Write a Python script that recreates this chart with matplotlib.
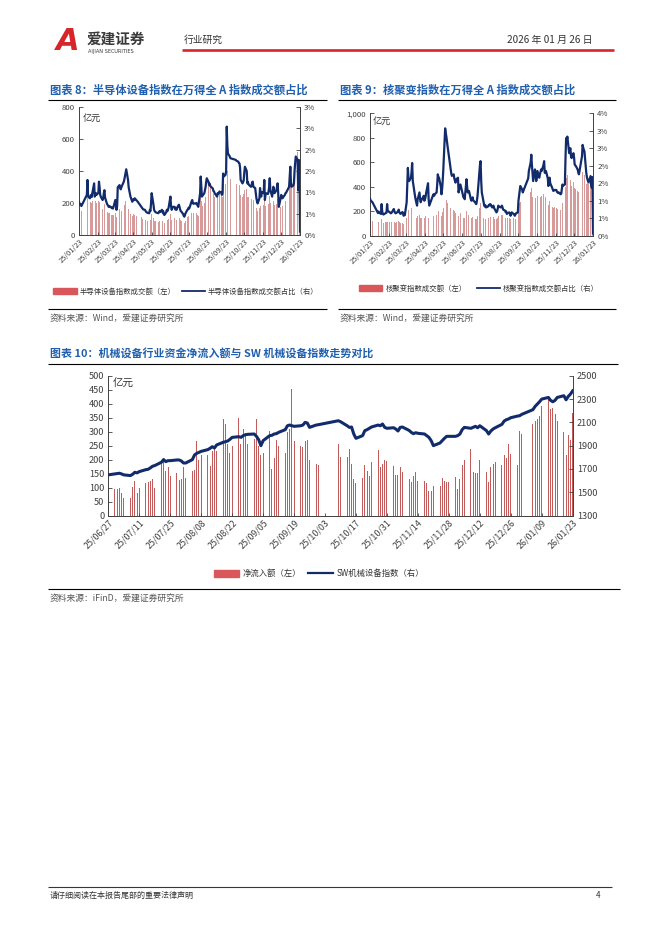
import matplotlib
matplotlib.use('Agg')
import matplotlib.pyplot as plt
from matplotlib.patches import Patch
from matplotlib.lines import Line2D
import pandas as pd

plt.rcParams['font.family'] = ['Noto Sans CJK SC', 'DejaVu Sans']

# ---------------- data ----------------
holidays = ['2025-01-28', '2025-01-29', '2025-01-30', '2025-01-31', '2025-02-03', '2025-02-04',
            '2025-04-04', '2025-05-01', '2025-05-02', '2025-05-05', '2025-06-02',
            '2025-10-01', '2025-10-02', '2025-10-03', '2025-10-06', '2025-10-07', '2025-10-08',
            '2026-01-01', '2026-01-02']

# Chart 8: semiconductor equipment index turnover (亿元) and share of Wind All-A turnover (%)
semi_amount = [
    175, 160,
    150,
    190, 230, 200,
    195, 205, 210, 200, 215,
    240, 205, 210, 215, 200,
    210, 225, 205, 180, 170,
    165, 170, 185, 195, 175,
    150, 145, 140, 135, 140,
    130, 125, 128, 120, 125,
    140, 130, 115, 125, 170,
    165, 150, 145, 150,
    200, 185, 190, 210, 230,
    180, 160, 150, 140, 130,
    120, 125, 130, 125, 128,
    120, 118, 115,
    110, 105, 100, 98,
    95, 92, 90, 88, 85,
    85, 95, 92, 110, 130,
    105, 90, 88, 85, 82,
    80, 85, 90, 88,
    95, 85, 90, 80, 78,
    85, 95, 92, 98, 100,
    130, 105, 95, 100, 105,
    105, 98, 100, 95, 102,
    110, 105, 98, 92, 90,
    85, 80, 75, 82, 88,
    110, 115, 120, 118, 125,
    140, 150, 138, 135, 132,
    130, 135, 128, 125, 120,
    180, 250, 215, 175, 180,
    200, 215, 240, 270, 300,
    330, 396, 340, 300, 290,
    270, 255, 250, 240, 235,
    225, 240, 235, 245, 255,
    245, 235, 240, 330, 320,
    320, 340, 420, 400, 380,
    360, 350,
    330, 320,
    330, 320, 310, 290, 250,
    240, 245, 255, 280, 300,
    290, 240, 245, 235, 230,
    220, 225, 240, 245, 220,
    215, 190, 170, 160, 150,
    170, 210, 180, 175, 195,
    185, 240, 160, 180, 185,
    185, 195, 210, 245, 200,
    175, 195, 215, 200, 185,
    195, 210, 225, 185, 130,
    175, 190, 185, 180, 185,
    200, 210, 215,
    260, 320, 380, 320, 300,
    330, 360, 450, 500, 550,
    520, 380, 500, 460, 330,
]
semi_ratio = [
    0.78, 0.73,
    0.68,
    0.94, 1.29, 0.90,
    0.86, 0.92, 0.94, 0.89, 0.98,
    1.21, 0.90, 0.96, 0.98, 0.94,
    0.99, 1.25, 1.12, 0.94, 0.90,
    0.82, 0.86, 0.98, 1.05, 0.88,
    0.74, 0.71, 0.69, 0.66, 0.68,
    0.65, 0.63, 0.64, 0.62, 0.66,
    0.82, 0.71, 0.59, 0.68, 1.12,
    1.17, 1.10, 1.07, 1.12,
    1.25, 1.31, 1.39, 1.48, 1.54,
    1.29, 1.12, 1.05, 0.98, 0.90,
    0.78, 0.81, 0.84, 0.82, 0.86,
    0.81, 0.79, 0.78,
    0.66, 0.64, 0.62, 0.60,
    0.59, 0.56, 0.54, 0.53, 0.52,
    0.51, 0.59, 0.56, 0.75, 0.98,
    0.71, 0.59, 0.56, 0.54, 0.53,
    0.51, 0.53, 0.56, 0.54,
    0.59, 0.53, 0.56, 0.49, 0.47,
    0.53, 0.59, 0.56, 0.60, 0.64,
    0.90, 0.68, 0.59, 0.62, 0.66,
    0.66, 0.60, 0.62, 0.59, 0.64,
    0.71, 0.66, 0.60, 0.56, 0.55,
    0.49, 0.45, 0.43, 0.47, 0.51,
    0.59, 0.60, 0.64, 0.62, 0.66,
    0.79, 0.82, 0.75, 0.73, 0.74,
    0.74, 0.75, 0.71, 0.69, 0.66,
    0.98, 1.37, 1.12, 0.90, 0.92,
    0.98, 1.05, 1.12, 1.24, 1.33,
    1.24, 1.17, 1.20, 1.14, 1.13,
    1.09, 1.03, 1.02, 0.98, 0.96,
    0.90, 0.98, 0.96, 0.98, 1.02,
    0.99, 0.94, 0.98, 1.44, 1.37,
    1.41, 1.50, 2.54, 2.10, 1.91,
    1.84, 1.80,
    1.76, 1.74,
    1.72, 1.69, 1.68, 1.58, 1.29,
    1.21, 1.24, 1.28, 1.46, 1.60,
    1.50, 1.21, 1.24, 1.19, 1.17,
    1.13, 1.16, 1.24, 1.25, 1.13,
    1.10, 0.98, 0.86, 0.79, 0.74,
    0.86, 1.10, 0.94, 0.90, 1.01,
    0.98, 1.29, 0.82, 0.94, 0.98,
    0.96, 1.01, 1.12, 1.33, 1.05,
    0.90, 1.01, 1.13, 1.05, 0.98,
    1.05, 1.12, 1.21, 0.98, 0.66,
    0.86, 0.94, 0.90, 0.86, 0.88,
    0.94, 0.98, 0.99,
    1.13, 1.35, 1.60, 1.24, 1.13,
    1.16, 1.21, 1.50, 1.69, 1.84,
    1.76, 1.05, 1.76, 1.65, 0.08,
]

# Chart 9: controllable nuclear fusion index turnover (亿元) and share (%)
fusion_amount = [
    150, 135,
    120,
    105, 115, 110,
    110, 140, 120, 112, 108,
    115, 118, 112, 140, 118,
    115, 110, 108, 112, 115,
    125, 118, 110, 108, 112,
    115, 120, 112, 108, 105,
    110, 108, 98, 100, 98,
    150, 200, 245, 215, 205,
    210, 225, 240, 190,
    170, 160, 150, 140, 160,
    175, 155, 145, 150, 155,
    160, 150, 155, 165, 175,
    200, 150, 130,
    160, 165, 160, 165,
    170, 190, 215, 205, 200,
    180, 160, 170, 195, 230,
    320, 310, 295, 280, 270,
    240, 225, 215, 205,
    210, 200, 195, 190, 195,
    200, 160, 170, 175, 185,
    165, 155, 150, 155, 148,
    200, 180, 165, 168, 170,
    150, 145, 150, 155, 148,
    140, 138, 135, 148, 160,
    230, 250, 265, 210, 175,
    150, 140, 138, 142, 135,
    140, 145, 150, 148, 152,
    145, 150, 155, 148, 142,
    135, 140, 150, 165, 160,
    165, 170, 175, 168, 160,
    155, 150, 152, 140, 145,
    150, 145, 135, 145, 152,
    145, 140, 135, 142, 150,
    160, 210, 240, 265, 280,
    270, 255,
    300, 330,
    360, 390, 350, 320, 290,
    330, 310, 285, 300, 330,
    300, 310, 320, 330, 325,
    345, 360, 310, 315, 320,
    290, 255, 270, 285, 265,
    245, 235, 230, 232, 235,
    230, 225, 220, 218, 222,
    215, 220, 240, 265, 260,
    270, 400, 480, 470, 500,
    430, 445, 460, 420, 410,
    440, 420, 390, 385, 380,
    370, 360, 355,
    450, 520, 880, 500, 495,
    420, 470, 460, 455, 440,
    500, 450, 430, 480, 400,
]
fusion_ratio = [
    1.22, 1.16,
    1.10,
    0.75, 0.80, 0.76,
    0.72, 1.04, 0.80, 0.72, 0.70,
    0.74, 0.75, 0.76, 1.04, 0.82,
    0.78, 0.76, 0.74, 0.75, 0.78,
    0.88, 0.80, 0.76, 0.74, 0.75,
    0.80, 0.86, 0.78, 0.74, 0.72,
    0.78, 0.76, 0.66, 0.70, 0.68,
    1.10, 1.68, 2.22, 1.88, 1.79,
    1.90, 2.08, 2.38, 1.80,
    1.26, 1.16, 1.08, 0.99, 1.20,
    1.42, 1.20, 1.10, 1.16, 1.20,
    1.31, 1.15, 1.20, 1.28, 1.42,
    1.72, 1.20, 0.99,
    1.32, 1.36, 1.31, 1.36,
    1.42, 1.68, 2.01, 1.92, 1.90,
    1.60, 1.36, 1.52, 1.80, 2.17,
    3.51, 3.36, 3.24, 3.08, 2.92,
    2.33, 2.16, 2.04, 1.96,
    2.01, 1.88, 1.80, 1.74, 1.84,
    1.90, 1.42, 1.52, 1.60, 1.68,
    1.42, 1.32, 1.26, 1.28, 1.20,
    1.85, 1.60, 1.42, 1.44, 1.47,
    1.20, 1.15, 1.20, 1.26, 1.16,
    1.10, 1.06, 1.04, 1.16, 1.31,
    2.06, 2.32, 2.44, 1.80, 1.42,
    1.10, 0.99, 0.96, 1.00, 0.93,
    0.96, 0.99, 1.02, 1.00, 1.04,
    0.93, 0.96, 0.99, 0.92, 0.88,
    0.77, 0.80, 0.88, 0.99, 0.96,
    0.93, 0.96, 0.99, 0.92, 0.86,
    0.83, 0.78, 0.80, 0.72, 0.74,
    0.77, 0.72, 0.66, 0.72, 0.77,
    0.72, 0.70, 0.66, 0.70, 0.74,
    0.77, 1.15, 1.32, 1.52, 1.63,
    1.52, 1.42,
    1.88, 2.12,
    2.40, 2.65, 2.32, 2.06, 1.79,
    2.17, 2.00, 1.79, 1.88, 2.12,
    1.90, 2.00, 2.08, 2.17, 2.12,
    2.32, 2.44, 2.06, 2.08, 2.12,
    1.88, 1.63, 1.76, 1.90, 1.72,
    1.58, 1.52, 1.47, 1.48, 1.50,
    1.50, 1.44, 1.42, 1.40, 1.42,
    1.36, 1.38, 1.52, 1.68, 1.64,
    1.68, 2.54, 3.19, 3.12, 3.24,
    2.70, 2.80, 2.86, 2.60, 2.54,
    2.70, 2.56, 2.33, 2.30, 2.28,
    2.16, 2.06, 2.01,
    2.60, 2.97, 2.88, 2.81, 2.76,
    2.06, 1.92, 1.84, 1.79, 1.76,
    1.95, 1.68, 1.58, 1.92, 0.08,
]

# Chart 10: machinery net inflow (亿元) and SW machinery index
net_inflow = [
    69,
    95, 95, 99, 80, 64,
    62, 101, 125, 80, 100,
    118, 120, 124, 130, 100,
    190, 205, 160, 172, 143,
    152, 128, 130, 173, 133,
    158, 162, 268, 200, 215,
    215, 178, 232, 240, 232,
    345, 327, 256, 222, 250,
    350, 255, 308, 290, 255,
    275, 347, 250, 216, 222,
    303, 165, 205, 270, 248,
    225, 300, 310, 452, 268,
    248, 245, 265, 272, 200,
    186, 180,
    256, 209,
    211, 238, 185, 130, 116,
    136, 181, 158, 140, 193,
    235, 174, 186, 200, 194,
    176, 145, 146, 172, 155,
    131, 119, 143, 155, 125,
    122, 115, 86, 86, 105,
    107, 133, 125, 119, 119,
    137, 95, 131, 179, 200,
    238, 157, 152, 152, 200,
    155, 119, 173, 184, 190,
    181, 217, 205, 256, 220,
    181, 303, 292,
    327, 339, 345, 357, 393,
    425, 380, 385, 365, 340,
    300, 217, 289, 272, 368,
]
sw_machinery = [
    1649,
    1657, 1660, 1663, 1657, 1649,
    1643, 1654, 1671, 1666, 1677,
    1694, 1697, 1709, 1723, 1729,
    1757, 1780, 1763, 1771, 1771,
    1777, 1777, 1769, 1751, 1751,
    1780, 1820, 1834, 1843, 1851,
    1866, 1877, 1891, 1880, 1906,
    1929, 1934, 1940, 1954, 1971,
    1977, 1971, 1986, 1994, 1997,
    2000, 1980, 1951, 1900, 1943,
    1986, 1989, 2000, 2003, 2014,
    2037, 2071, 2077, 2071, 2066,
    2071, 2077, 2100, 2094, 2057,
    2077, 2080,
    2114, 2106,
    2071, 2057, 2060, 2000, 1963,
    1986, 2029, 2037, 2049, 2060,
    2077, 2071, 2086, 2057, 2049,
    2054, 2043, 2026, 2057, 2060,
    2031, 2014, 2003, 2011, 2006,
    2000, 1986, 1971, 1943, 1900,
    1923, 1943, 1963, 1980, 1980,
    1980, 1986, 2000, 2037, 2057,
    2049, 2057, 2066, 2054, 2071,
    2029, 2000, 2026, 2043, 2054,
    2083, 2111, 2123, 2129, 2140,
    2154, 2157, 2169,
    2209, 2237, 2257, 2277, 2300,
    2314, 2289, 2277, 2289, 2314,
    2329, 2294, 2323, 2343, 2371,
]

ticks_right8 = ['0%', '1%', '1%', '2%', '2%', '3%', '3%']
ticks_right9 = ['0%', '1%', '1%', '2%', '2%', '3%', '3%', '4%']

# ---------------- helpers ----------------
hol = pd.to_datetime(holidays)


def trading_days(start, end):
    d = pd.bdate_range(start, end)
    return d[~d.isin(hol)]


dates_y = trading_days('2025-01-23', '2026-01-23')
dates_10 = trading_days('2025-06-27', '2026-01-23')

W, H = 662, 936
fig = plt.figure(figsize=(W / 100, H / 100), dpi=100)


def fx(x):
    return x / W


def fy(y):
    return 1 - y / H


def hline(x0, x1, y, color='black', lw=0.8):
    fig.add_artist(Line2D([fx(x0), fx(x1)], [fy(y), fy(y)], color=color, lw=lw,
                          solid_capstyle='butt'))


NAVY = '#122b6b'
BAR_RED = '#d9575b'
BAR_FILL = '#d69a9a'
TITLE_BLUE = '#1f5fae'
TXT = '#404040'
SPINE = '#404040'

# ---------------- header ----------------
fig.text(fx(68), fy(41), 'A', fontsize=22, fontweight='bold', color='#d7262b',
         ha='center', va='center', family='DejaVu Sans', style='italic')
fig.text(fx(87), fy(39), '爱建证券', fontsize=10.5, fontweight='bold', color='#3a3a3a',
         ha='left', va='center')
fig.text(fx(88), fy(51), 'AIJIAN SECURITIES', fontsize=3.6, color='#3a3a3a',
         ha='left', va='center', family='DejaVu Sans')
fig.text(fx(184), fy(40), '行业研究', fontsize=7, color='#333333', ha='left', va='center')
fig.text(fx(593), fy(40), '2026 年 01 月 26 日', fontsize=7.2, color='#333333',
         ha='right', va='center')
hline(182, 614, 49.5, color='#d7262b', lw=1.9)

# ---------------- footer ----------------
hline(48, 612, 887, color='#1f3864', lw=0.8)
fig.text(fx(50), fy(895.5), '请仔细阅读在本报告尾部的重要法律声明', fontsize=5.8,
         color='#333333', ha='left', va='center')
fig.text(fx(598), fy(895.5), '4', fontsize=5.8, color='#333333', ha='center', va='center')


def style_axes(ax, axr, fs):
    for s in ['top']:
        ax.spines[s].set_visible(False)
        axr.spines[s].set_visible(False)
    for s in ['left', 'bottom', 'right']:
        ax.spines[s].set_color(SPINE)
        ax.spines[s].set_linewidth(0.6)
        axr.spines[s].set_color(SPINE)
        axr.spines[s].set_linewidth(0.6)
    ax.tick_params(axis='y', direction='in', length=3, width=0.6, colors=SPINE,
                   labelsize=fs, labelcolor=TXT, pad=3)
    axr.tick_params(axis='y', direction='in', length=3, width=0.6, colors=SPINE,
                    labelsize=fs, labelcolor=TXT, pad=3)
    ax.tick_params(axis='x', direction='in', length=2.5, width=0.6, colors=SPINE,
                   labelcolor=TXT, pad=2)


def set_date_ticks(ax, ticks, fs):
    ax.set_xticks(ticks)
    ax.set_xticklabels([t.strftime('%y/%m/%d') for t in ticks], rotation=45,
                       ha='right', rotation_mode='anchor', fontsize=fs, color=TXT)


# ---------------- chart 8 ----------------
fig.text(fx(50), fy(90), '图表 8：半导体设备指数在万得全 A 指数成交额占比', fontsize=8.1,
         fontweight='bold', color=TITLE_BLUE, ha='left', va='center')
hline(48, 327, 99.5)

ax8 = fig.add_axes([fx(79), fy(235), (300 - 79) / W, (235 - 107) / H])
ax8.bar(dates_y, semi_amount, width=0.75, color=BAR_FILL, linewidth=0, zorder=1)
ax8.set_ylim(0, 800)
ax8.set_yticks([0, 200, 400, 600, 800])
ax8.set_yticklabels(['0', '200', '400', '600', '800'])
ax8r = ax8.twinx()
ax8r.plot(dates_y, semi_ratio, color=NAVY, lw=1.6, zorder=3)
ax8r.set_ylim(0, 3)
ax8r.set_yticks([0, 0.5, 1, 1.5, 2, 2.5, 3])
ax8r.set_yticklabels(ticks_right8)
x0, x1 = pd.Timestamp('2025-01-23'), pd.Timestamp('2026-01-23')
ax8.set_xlim(x0, x1)
ax8r.set_xlim(x0, x1)
style_axes(ax8, ax8r, 5.6)
set_date_ticks(ax8, pd.date_range(x0, x1, freq=pd.DateOffset(months=1)), 5.3)
fig.text(fx(83), fy(118), '亿元', fontsize=6.6, color='#333333', ha='left', va='center')

fig.legend([Patch(color=BAR_RED), Line2D([], [], color=NAVY, lw=1.3)],
           ['半导体设备指数成交额（左）', '半导体设备指数成交额占比（右）'],
           loc='center', bbox_to_anchor=(fx(186), fy(291.5)), ncol=2, frameon=False,
           fontsize=5.3, handlelength=3.2, handleheight=0.9, columnspacing=0.8,
           handletextpad=0.4, labelcolor='#333333')
hline(48, 327, 308.5)
fig.text(fx(50), fy(318.5), '资料来源：Wind，爱建证券研究所', fontsize=6.3, color='#555555',
         ha='left', va='center')

# ---------------- chart 9 ----------------
fig.text(fx(340), fy(90), '图表 9：核聚变指数在万得全 A 指数成交额占比', fontsize=8.1,
         fontweight='bold', color=TITLE_BLUE, ha='left', va='center')
hline(338, 616, 99.5)

ax9 = fig.add_axes([fx(370), fy(236), (593 - 370) / W, (236 - 113.3) / H])
ax9.bar(dates_y, fusion_amount, width=0.75, color=BAR_FILL, linewidth=0, zorder=1)
ax9.set_ylim(0, 1000)
ax9.set_yticks([0, 200, 400, 600, 800, 1000])
ax9.set_yticklabels(['0', '200', '400', '600', '800', '1,000'])
ax9r = ax9.twinx()
ax9r.plot(dates_y, fusion_ratio, color=NAVY, lw=1.6, zorder=3)
ax9r.set_ylim(0, 4)
ax9r.set_yticks([4 * i / 7 for i in range(8)])
ax9r.set_yticklabels(ticks_right9)
ax9.set_xlim(x0, x1)
ax9r.set_xlim(x0, x1)
style_axes(ax9, ax9r, 5.6)
set_date_ticks(ax9, pd.date_range(x0, x1, freq=pd.DateOffset(months=1)), 5.3)
fig.text(fx(373), fy(121), '亿元', fontsize=6.6, color='#333333', ha='left', va='center')

fig.legend([Patch(color=BAR_RED), Line2D([], [], color=NAVY, lw=1.3)],
           ['核聚变指数成交额（左）', '核聚变指数成交额占比（右）'],
           loc='center', bbox_to_anchor=(fx(479), fy(288.5)), ncol=2, frameon=False,
           fontsize=5.3, handlelength=3.2, handleheight=0.9, columnspacing=1.4,
           handletextpad=0.4, labelcolor='#333333')
hline(338, 616, 308.5)
fig.text(fx(340), fy(318.5), '资料来源：Wind，爱建证券研究所', fontsize=6.3, color='#555555',
         ha='left', va='center')

# ---------------- chart 10 ----------------
fig.text(fx(50), fy(353.5), '图表 10：机械设备行业资金净流入额与 SW 机械设备指数走势对比',
         fontsize=7.9, fontweight='bold', color=TITLE_BLUE, ha='left', va='center')
hline(48, 618, 363.5)

ax10 = fig.add_axes([fx(108.3), fy(515.5), (572.7 - 108.3) / W, (515.5 - 375.8) / H])
ax10.bar(dates_10, net_inflow, width=0.45, color='#c45b5b', linewidth=0, zorder=1)
ax10.set_ylim(0, 500)
ax10.set_yticks(list(range(0, 501, 50)))
ax10r = ax10.twinx()
ax10r.plot(dates_10, sw_machinery, color=NAVY, lw=2.2, zorder=3)
ax10r.set_ylim(1300, 2500)
ax10r.set_yticks(list(range(1300, 2501, 200)))
x0b, x1b = pd.Timestamp('2025-06-27'), pd.Timestamp('2026-01-23')
ax10.set_xlim(x0b, x1b)
ax10r.set_xlim(x0b, x1b)
style_axes(ax10, ax10r, 6.6)
set_date_ticks(ax10, pd.date_range(x0b, x1b, freq='14D'), 6.4)
fig.text(fx(113), fy(383.5), '亿元', fontsize=7.6, color='#333333', ha='left', va='center')

fig.legend([Patch(color=BAR_RED), Line2D([], [], color=NAVY, lw=1.6)],
           ['净流入额（左）', 'SW机械设备指数（右）'],
           loc='center', bbox_to_anchor=(fx(319), fy(573.5)), ncol=2, frameon=False,
           fontsize=6.0, handlelength=3.0, handleheight=0.9, columnspacing=0.8,
           handletextpad=0.4, labelcolor='#333333')
hline(48, 620, 589)
fig.text(fx(50), fy(598.5), '资料来源：iFinD，爱建证券研究所', fontsize=6.3, color='#555555',
         ha='left', va='center')

fig.savefig('out.png', dpi=100, facecolor='white')
